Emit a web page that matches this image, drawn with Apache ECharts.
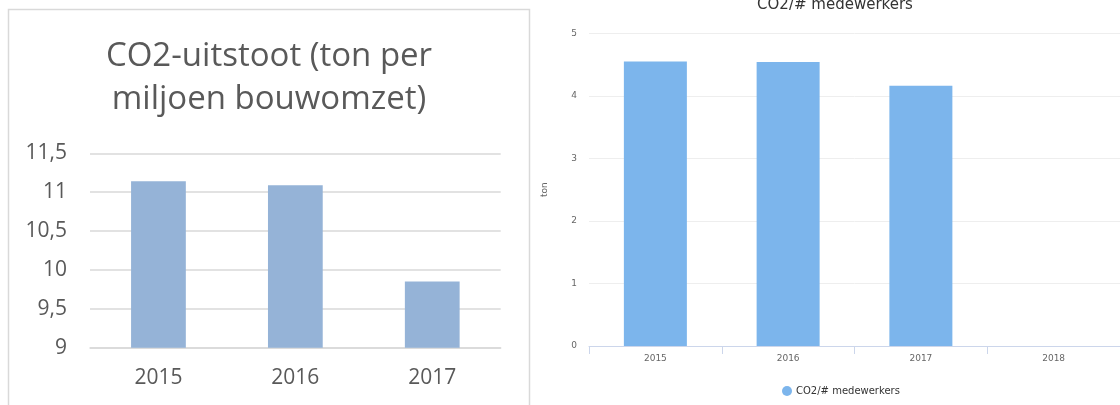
<!DOCTYPE html>
<html>
<head>
<meta charset="utf-8">
<script src="https://cdn.jsdelivr.net/npm/echarts@6/dist/echarts.min.js"></script>
<style>
html,body{margin:0;padding:0;background:#fff;}
#c{width:1120px;height:405px;}
</style>
</head>
<body>
<div id="c"></div>
<script>
// Left chart data
const leftTitle = 'CO2-uitstoot (ton per\nmiljoen bouwomzet)';
const leftCategories = ['2015', '2016', '2017'];
const leftValues = [11.14, 11.09, 9.85];
// Right chart data
const rightTitle = 'CO2/# medewerkers';
const rightSeriesName = 'CO2/# medewerkers';
const rightCategories = ['2015', '2016', '2017', '2018'];
const rightValues = [4.55, 4.54, 4.16, null];
const rightAxisName = 'ton';

const chart = echarts.init(document.getElementById('c'), null, {renderer: 'canvas'});
const leftLines = leftTitle.split('\n');
const option = {
  animation: false,
  graphic: [
    {type: 'rect', shape: {x: 8.5, y: 9.5, width: 521, height: 420}, style: {fill: 'none', stroke: '#d9d9d9', lineWidth: 1.5}, silent: true},
    {type: 'text', x: 269, y: 56.5, style: {text: leftLines[0], fill: '#595959', font: '33px "Open Sans"', textAlign: 'center', textVerticalAlign: 'middle'}},
    {type: 'text', x: 269, y: 100, style: {text: leftLines[1], fill: '#595959', font: '33px "Open Sans"', textAlign: 'center', textVerticalAlign: 'middle'}},
    {type: 'text', x: 835, y: 5.5, style: {text: rightTitle, fill: '#333333', font: '15px "DejaVu Sans"', textAlign: 'center', textVerticalAlign: 'middle'}}
  ],
  legend: {
    data: [rightSeriesName],
    left: 777, top: 381,
    icon: 'circle', itemWidth: 10, itemHeight: 10, itemGap: 10,
    textStyle: {color: '#333333', fontSize: 10, fontFamily: 'DejaVu Sans', padding: [0, 0, 0, -1]}
  },
  grid: [
    {left: 90, top: 153.3, width: 410.7, height: 194.4},
    {left: 589, top: 33.3, width: 534, height: 312.7}
  ],
  xAxis: [
    {
      type: 'category', gridIndex: 0, data: leftCategories,
      axisLine: {lineStyle: {color: '#d9d9d9', width: 1.5}},
      axisTick: {show: false},
      axisLabel: {color: '#595959', fontSize: 21, fontFamily: 'Open Sans', margin: 20}
    },
    {
      type: 'category', gridIndex: 1, data: rightCategories,
      axisLine: {lineStyle: {color: '#ccd6eb'}},
      axisTick: {show: true, length: 8, lineStyle: {color: '#ccd6eb'}},
      axisLabel: {color: '#666666', fontSize: 9, fontFamily: 'DejaVu Sans', margin: 8}
    }
  ],
  yAxis: [
    {
      type: 'value', gridIndex: 0, min: 9, max: 11.5, interval: 0.5,
      axisLine: {show: false}, axisTick: {show: false},
      splitLine: {lineStyle: {color: '#d9d9d9', width: 1.5}},
      axisLabel: {color: '#595959', fontSize: 21, fontFamily: 'Open Sans', margin: 23,
        formatter: v => String(v).replace('.', ',')}
    },
    {
      type: 'value', gridIndex: 1, min: 0, max: 5, interval: 1,
      name: rightAxisName, nameLocation: 'middle', nameGap: 40,
      nameTextStyle: {color: '#666666', fontSize: 9, fontFamily: 'DejaVu Sans'},
      axisLine: {show: false}, axisTick: {show: false},
      splitLine: {lineStyle: {color: '#eeeeee'}},
      axisLabel: {color: '#666666', fontSize: 9, fontFamily: 'DejaVu Sans', margin: 12}
    }
  ],
  series: [
    {
      type: 'bar', name: 'left', xAxisIndex: 0, yAxisIndex: 0, data: leftValues,
      barWidth: '40%', itemStyle: {color: '#95b3d7'}, silent: true
    },
    {
      type: 'bar', name: rightSeriesName, xAxisIndex: 1, yAxisIndex: 1, data: rightValues,
      barWidth: 63, itemStyle: {color: '#7cb5ec'}
    }
  ]
};
chart.setOption(option);
</script>
</body>
</html>
